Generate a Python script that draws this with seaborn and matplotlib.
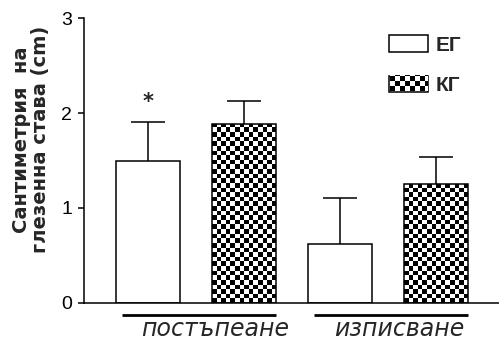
import numpy as np
import pandas as pd
import matplotlib
matplotlib.use('Agg')
import matplotlib.pyplot as plt
import matplotlib.transforms as mtransforms
from matplotlib.patches import Patch
from matplotlib import font_manager
import seaborn as sns

# data
groups = ['постъпеане', 'изписване']
conditions = ['ЕГ', 'КГ']
eg_mean = [1.50, 0.615]
eg_sem = [0.405, 0.49]
kg_mean = [1.88, 1.25]
kg_sem = [0.245, 0.29]
star_group = 'постъпеане'   # ЕГ bar marked with *

df = pd.DataFrame({
    'group': groups * 2,
    'cond': [conditions[0]] * 2 + [conditions[1]] * 2,
    'value': eg_mean + kg_mean,
    'sem': eg_sem + kg_sem,
})

sns.set_style('ticks')
plt.rcParams['font.family'] = ['Liberation Sans', 'DejaVu Sans']

fig = plt.figure(figsize=(4.99, 3.43), dpi=100)
ax = fig.add_axes([84 / 499, 40.3 / 343, 415 / 499, 284.4 / 343])

sns.barplot(data=df, x='group', y='value', hue='cond', order=groups,
            hue_order=conditions, palette=['white', 'white'], saturation=1,
            edgecolor='black', linewidth=1.1, width=1.0, gap=1 / 3,
            errorbar=None, legend=False, ax=ax)

ax.set_xlim(-0.586, 1.578)
ax.set_ylim(0, 3)

# bars sorted left to right: g0 ЕГ, g0 КГ, g1 ЕГ, g1 КГ
bars = sorted(ax.patches, key=lambda p: p.get_x())
order = [(g, c) for g in groups for c in conditions]
lookup = df.set_index(['group', 'cond'])
centers = np.array([b.get_x() + b.get_width() / 2 for b in bars])
heights = np.array([b.get_height() for b in bars])
sems = np.array([lookup.loc[k, 'sem'] for k in order])

_, caps, _ = ax.errorbar(centers, heights, yerr=[np.zeros_like(sems), sems],
                         fmt='none', ecolor='black', elinewidth=1.1,
                         capsize=12, capthick=1.1, zorder=1)
caps[0].set_visible(False)   # only the upper cap

# checkerboard fill for КГ bars
cell = 4.6
for b, (g, c) in zip(bars, order):
    if c != conditions[1]:
        continue
    x0, w, h = b.get_x(), b.get_width(), b.get_height()
    (px0, py0), (px1, py1) = ax.transData.transform([(x0, 0), (x0 + w, h)])
    nc = int(np.ceil((px1 - px0) / cell))
    nr = int(np.ceil((py1 - py0) / cell))
    board = np.add.outer(np.arange(nr), np.arange(nc)) % 2
    ext = [x0, x0 + nc * cell * w / (px1 - px0), 0, nr * cell * h / (py1 - py0)]
    b.set_facecolor('none')
    im = ax.imshow(board, cmap='gray', vmin=0, vmax=1, origin='lower',
                   extent=ext, aspect='auto', interpolation='nearest',
                   zorder=b.get_zorder() - 0.01)
    im.set_clip_path(b)

ax.set_xlim(-0.586, 1.578)
ax.set_ylim(0, 3)

# asterisk over the ЕГ bar
i = order.index((star_group, conditions[0]))
ax.text(centers[i], heights[i] + sems[i] + 0.11, '*', ha='center', va='bottom',
        fontsize=15, fontweight='bold', family='DejaVu Sans')

# group labels with underlines
trans = mtransforms.blended_transform_factory(ax.transData, ax.transAxes)
for k, g in enumerate(groups):
    left = bars[2 * k]
    right = bars[2 * k + 1]
    x_a = left.get_x() + 0.031
    x_b = right.get_x() + right.get_width()
    ax.plot([x_a, x_b], [-0.043, -0.043], transform=trans, clip_on=False,
            color='black', lw=2, solid_capstyle='butt')
    xc = (centers[2 * k] + centers[2 * k + 1]) / 2 + [0.1, 0.06][k]
    ax.text(xc, -0.094, g, transform=trans, ha='center', va='center',
            fontsize=17, fontstyle='italic', family='DejaVu Sans')

sns.despine(ax=ax)
for s in ['left', 'bottom']:
    ax.spines[s].set_linewidth(1.1)
    ax.spines[s].set_color('black')
ax.set_xticks([])
ax.set_xlabel('')
ax.set_yticks([0, 1, 2, 3])
ax.tick_params(axis='y', direction='out', length=4.5, width=1.1, pad=4,
               labelsize=14, colors='black')

ax.set_ylabel('Сантиметрия  на\nглезенна става (cm)', fontsize=14,
              fontweight='bold', linespacing=1.0, family='DejaVu Sans')
ax.yaxis.set_label_coords(-0.082, 0.574)

handles = [Patch(facecolor='white', edgecolor='black', lw=1.1, label=conditions[0]),
           Patch(facecolor='white', edgecolor='black', lw=1.1, label=conditions[1])]
leg = ax.legend(handles=handles, loc='upper left', bbox_to_anchor=(0.735, 0.94),
                frameon=False, handlelength=1.88, handleheight=0.85,
                handletextpad=0.34, labelspacing=1.0, borderpad=0,
                borderaxespad=0,
                prop=font_manager.FontProperties(family='Liberation Sans',
                                                 size=15, weight='bold'))

fig.canvas.draw()
bb = leg.get_patches()[1].get_window_extent()
xo, yo = int(round(bb.x0)) + 1, int(round(bb.y0)) + 1
w, h = int(round(bb.width)) - 1, int(round(bb.height)) - 1
c = 5
leg_board = np.add.outer(np.arange(h) // c, np.arange(w) // c) % 2
fig.figimage(leg_board, xo=xo, yo=yo, cmap='gray', vmin=0, vmax=1,
             origin='lower', zorder=10)

fig.savefig('out.png', dpi=100)
